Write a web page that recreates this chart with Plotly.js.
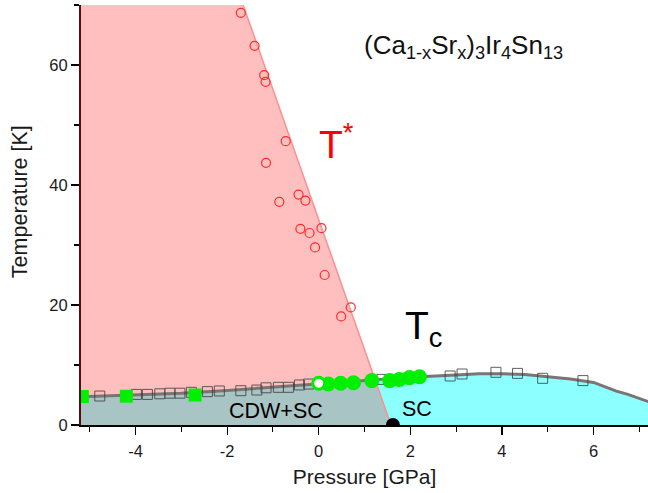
<!DOCTYPE html>
<html>
<head>
<meta charset="utf-8">
<script src="https://cdn.plot.ly/plotly-3.0.1.min.js"></script>
<style>html,body{margin:0;padding:0;background:#fff;}#chart{width:648px;height:493px;}</style>
</head>
<body>
<div id="chart"></div>
<script>
// ---- data ----
// Tc boundary (grey line)
const tcCurveP = [-5.2, -4, -3, -2, -1, 0, 1, 2, 3, 3.5, 4, 4.5, 5, 5.5, 6, 6.25, 6.5, 6.75, 7, 7.25];
const tcCurveT = [4.7, 5.0, 5.3, 5.75, 6.3, 6.95, 7.4, 7.95, 8.35, 8.55, 8.55, 8.4, 8.05, 7.65, 7.1, 6.4, 5.65, 5.1, 4.45, 3.75];
// T* boundary line (end points)
const tStarLineP = [-1.65, 1.58];
const tStarLineT = [70, 0];
// T* data (open red circles)
const tStarP = [-1.70, -1.40, -1.19, -1.16, -0.72, -1.15, -0.86, -0.44, -0.29, -0.40, -0.20, 0.06, -0.08, 0.13, 0.70, 0.49];
const tStarT = [68.7, 63.2, 58.3, 57.2, 47.3, 43.7, 37.2, 38.4, 37.4, 32.7, 32.0, 32.8, 29.6, 25.0, 19.6, 18.1];
// Tc data (open squares)
const tcSqP = [-4.78, -3.98, -3.74, -3.47, -3.25, -3.03, -2.78, -2.43, -2.17, -1.70, -1.35, -1.15, -0.88, -0.66, -0.42, -0.22, 1.38, 2.87, 3.13, 3.87, 4.34, 4.89, 5.77];
const tcSqT = [4.83, 5.10, 5.10, 5.20, 5.30, 5.30, 5.45, 5.56, 5.67, 5.72, 5.83, 6.20, 6.28, 6.28, 6.67, 6.83, 7.60, 8.17, 8.50, 8.78, 8.60, 7.78, 7.40];
// Tc data (green squares)
const greenSqP = [-5.16, -4.20, -2.70];
const greenSqT = [4.75, 4.80, 5.00];
// Tc data (green circles)
const greenCirP = [0.21, 0.48, 0.76, 1.16, 1.55, 1.76, 1.98, 2.20];
const greenCirT = [6.83, 6.95, 7.05, 7.40, 7.40, 7.60, 7.90, 8.05];
// ambient-pressure point (open green circle)
const openCirP = [0.0];
const openCirT = [6.95];
// end of T* line (black dot)
const dotP = [1.62];
const dotT = [0];

// tick labels
const xTickVals = [-4, -2, 0, 2, 4, 6];
const xTickText = ['-4', '-2', '0', '2', '4', '6'];
const yTickVals = [0, 20, 40, 60];
const yTickText = ['0', '20', '40', '60'];

const xRange = [-5.19, 7.19];
const yRange = [0, 70];

// ---- helpers to build region outlines from the arrays ----
function tcAt(p) {
  for (let i = 0; i < tcCurveP.length - 1; i++) {
    if (p >= tcCurveP[i] && p <= tcCurveP[i + 1]) {
      const f = (p - tcCurveP[i]) / (tcCurveP[i + 1] - tcCurveP[i]);
      return tcCurveT[i] + f * (tcCurveT[i + 1] - tcCurveT[i]);
    }
  }
  return p < tcCurveP[0] ? tcCurveT[0] : tcCurveT[tcCurveT.length - 1];
}
function starAt(t) {
  const f = (t - tStarLineT[0]) / (tStarLineT[1] - tStarLineT[0]);
  return tStarLineP[0] + f * (tStarLineP[1] - tStarLineP[0]);
}
// intersection of T* line with Tc curve (bisection on temperature)
let lo = 0, hi = 20;
for (let k = 0; k < 60; k++) {
  const mid = (lo + hi) / 2;
  if (tcAt(starAt(mid)) > mid) lo = mid; else hi = mid;
}
const crossT = (lo + hi) / 2, crossP = starAt(crossT);

const leftP = tcCurveP.filter(p => p < crossP), leftT = leftP.map(tcAt);
const rightP = tcCurveP.filter(p => p > crossP), rightT = rightP.map(tcAt);

// pink region (above Tc, left of T*)
const pinkX = [tcCurveP[0], tStarLineP[0], crossP].concat(leftP.slice().reverse());
const pinkY = [tStarLineT[0], tStarLineT[0], crossT].concat(leftT.slice().reverse());
// grey region (below Tc, left of T*)
const greyX = [tcCurveP[0]].concat(leftP, [crossP, tStarLineP[1]]);
const greyY = [0].concat(leftT, [crossT, tStarLineT[1]]);
// cyan region (below Tc, right of T*)
const cyanX = [tStarLineP[1], crossP].concat(rightP, [rightP[rightP.length - 1]]);
const cyanY = [tStarLineT[1], crossT].concat(rightT, [0]);

const FONT = 'Arial, "Liberation Sans", sans-serif';

const traces = [
  {x: pinkX, y: pinkY, fill: 'toself', fillcolor: '#ffbfbf', mode: 'lines', line: {width: 0, color: '#ffbfbf'}, hoverinfo: 'skip'},
  {x: greyX, y: greyY, fill: 'toself', fillcolor: '#a8c4c4', mode: 'lines', line: {width: 0, color: '#a8c4c4'}, hoverinfo: 'skip'},
  {x: cyanX, y: cyanY, fill: 'toself', fillcolor: '#8cffff', mode: 'lines', line: {width: 0, color: '#8cffff'}, hoverinfo: 'skip'},
  {x: tStarLineP, y: tStarLineT, mode: 'lines', line: {width: 1.5, color: '#ff8f8f'}, hoverinfo: 'skip'},
  {x: tcCurveP, y: tcCurveT, mode: 'lines', line: {width: 3, color: '#7a7474'}, hoverinfo: 'skip'},
  {x: tcSqP, y: tcSqT, mode: 'markers', marker: {symbol: 'square-open', size: 10, color: '#3a3a3a', line: {width: 1}}, opacity: 0.8},
  {x: tStarP, y: tStarT, mode: 'markers', marker: {symbol: 'circle-open', size: 9, color: '#ff2a2a', line: {width: 1.2}}},
  {x: greenSqP, y: greenSqT, mode: 'markers', marker: {symbol: 'square', size: 13, color: '#00f000'}},
  {x: greenCirP, y: greenCirT, mode: 'markers', marker: {symbol: 'circle', size: 15, color: '#00f000'}},
  {x: openCirP, y: openCirT, mode: 'markers', marker: {symbol: 'circle', size: 12, color: '#ffffff', line: {width: 3, color: '#00f000'}}},
  {x: dotP, y: dotT, mode: 'markers', marker: {symbol: 'circle', size: 14, color: '#000000'}, cliponaxis: true}
];

const layout = {
  width: 648, height: 493,
  margin: {l: 81, r: 0, t: 5, b: 68},
  paper_bgcolor: '#ffffff', plot_bgcolor: '#ffffff',
  showlegend: false,
  font: {family: FONT, color: '#222222'},
  xaxis: {
    range: xRange, showgrid: false, zeroline: false,
    showline: true, linecolor: '#000000', linewidth: 1.5,
    ticks: 'outside', ticklen: 8, tickwidth: 1.2, tickcolor: '#000000',
    tickmode: 'array', tickvals: xTickVals, ticktext: xTickText, ticklabelstandoff: 3,
    minor: {ticks: 'outside', ticklen: 5, tickwidth: 1.2, tickcolor: '#000000', tickmode: 'linear', tick0: 0, dtick: 1},
    tickfont: {size: 16.5, family: FONT, color: '#1a1a1a'},
    title: {text: 'Pressure [GPa]', font: {size: 21, family: FONT, color: '#1a1a1a'}, standoff: 10}
  },
  yaxis: {
    range: yRange, showgrid: false, zeroline: false,
    showline: true, linecolor: '#5a0b0b', linewidth: 2,
    ticks: 'outside', ticklen: 8, tickwidth: 1.2, tickcolor: '#000000',
    tickmode: 'array', tickvals: yTickVals, ticktext: yTickText,
    minor: {ticks: 'outside', ticklen: 5, tickwidth: 1.2, tickcolor: '#000000', tickmode: 'linear', tick0: 0, dtick: 10},
    tickfont: {size: 16.5, family: FONT, color: '#1a1a1a'},
    title: {text: ''}
  },
  annotations: [
    {x: -0.1076, y: 0.533, xref: 'paper', yref: 'paper', showarrow: false, textangle: -90,
     text: 'Temperature [K]', font: {size: 21.5, family: FONT, color: '#1a1a1a'},
     xanchor: 'center', yanchor: 'middle'},
    {x: 0.674, y: 0.902, xref: 'paper', yref: 'paper', showarrow: false,
     text: '(Ca<sub>1-x</sub>Sr<sub>x</sub>)<sub>3</sub>Ir<sub>4</sub>Sn<sub>13</sub>',
     font: {size: 26, family: FONT, color: '#111111'}, xanchor: 'center', yanchor: 'middle'},
    {x: -0.04, y: 47.3, xref: 'x', yref: 'y', showarrow: false, text: 'T<sup>*</sup>',
     font: {size: 39, family: FONT, color: '#ff0000'}, xanchor: 'left', yanchor: 'middle'},
    {x: 1.85, y: 16.1, xref: 'x', yref: 'y', showarrow: false, text: 'T<sub>c</sub>',
     font: {size: 39, family: FONT, color: '#000000'}, xanchor: 'left', yanchor: 'middle'},
    {x: -0.93, y: 2.3, xref: 'x', yref: 'y', showarrow: false, text: 'CDW+SC',
     font: {size: 21.5, family: FONT, color: '#000000'}, xanchor: 'center', yanchor: 'middle'},
    {x: 2.14, y: 2.7, xref: 'x', yref: 'y', showarrow: false, text: 'SC',
     font: {size: 21.5, family: FONT, color: '#000000'}, xanchor: 'center', yanchor: 'middle'}
  ]
};

Plotly.newPlot('chart', traces, layout, {displayModeBar: false, staticPlot: true});
</script>
</body>
</html>
